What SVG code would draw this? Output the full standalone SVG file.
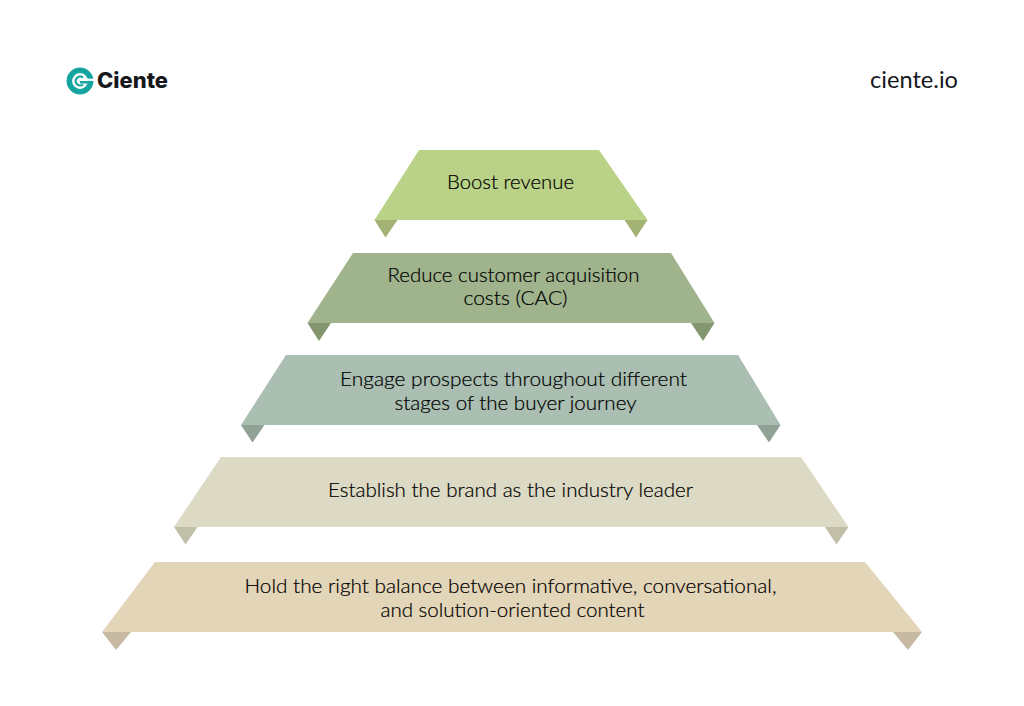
<svg xmlns="http://www.w3.org/2000/svg" width="1024" height="706" viewBox="0 0 1024 706">
<style>
text{font-family:"Lato","Noto Sans",sans-serif;font-size:19px;font-weight:300;fill:#000;stroke:#000;stroke-width:0.200px;text-anchor:middle}
.logo{font-family:"Inter","Liberation Sans",sans-serif;font-weight:800;font-size:21.500px;fill:#16181c;stroke:none;text-anchor:start}
.site{font-family:"Lato","Noto Sans",sans-serif;font-size:24px;font-weight:400;fill:#16181c;stroke:none}
</style>
<rect width="1024" height="706" fill="#fff"/>
<g id="logo">
<circle cx="80" cy="81" r="10.700" fill="none" stroke="#14a5a0" stroke-width="5.500"/>
<path d="M80 79.800H94" fill="none" stroke="#fff" stroke-width="2.200"/>
<path d="M80 82.300H90" fill="none" stroke="#14a5a0" stroke-width="2.500"/>
<path d="M83 77.500A4.500 4.500 0 1 0 83 84.500" fill="none" stroke="#14a5a0" stroke-width="2.200"/>
<text class="logo" x="97" y="88" textLength="71" lengthAdjust="spacingAndGlyphs">Ciente</text>
</g>
<g id="site"><text class="site" x="914" y="88" textLength="88" lengthAdjust="spacingAndGlyphs">ciente.io</text></g>
<g id="level-1">
<polygon points="419,150 599,150 647.500,220 374.500,220" fill="#b9d287"/>
<polygon points="374.500,220 397.500,220 385.500,237.500" fill="#a3b374"/>
<polygon points="624.500,220 647.500,220 636,237.500" fill="#a3b374"/>
<text x="510.500" y="188.500" textLength="127" lengthAdjust="spacingAndGlyphs">Boost revenue</text>
</g>
<g id="level-2">
<polygon points="353,253 671,253 714.500,323 307.500,323" fill="#9fb38c"/>
<polygon points="307.500,323 331,323 319,341" fill="#84966f"/>
<polygon points="691,323 714.500,323 703,341" fill="#84966f"/>
<text x="513.500" y="282" textLength="252" lengthAdjust="spacingAndGlyphs">Reduce customer acquisition</text>
<text x="515.500" y="305" textLength="104" lengthAdjust="spacingAndGlyphs">costs (CAC)</text>
</g>
<g id="level-3">
<polygon points="286,355 738,355 780.500,425 241,425" fill="#aabeb1"/>
<polygon points="241,425 264.500,425 252.500,442.500" fill="#8fa295"/>
<polygon points="757,425 780.500,425 769,442.500" fill="#8fa295"/>
<text x="513.500" y="385.500" textLength="347" lengthAdjust="spacingAndGlyphs">Engage prospects throughout different</text>
<text x="515.500" y="409.500" textLength="242" lengthAdjust="spacingAndGlyphs">stages of the buyer journey</text>
</g>
<g id="level-4">
<polygon points="221,457 801,457 848.500,527 174,527" fill="#dcd9c4"/>
<polygon points="174,527 197.500,527 185.500,544.500" fill="#c2bfa9"/>
<polygon points="825,527 848.500,527 836.500,544.500" fill="#c2bfa9"/>
<text x="510.500" y="496.500" textLength="365" lengthAdjust="spacingAndGlyphs">Establish the brand as the industry leader</text>
</g>
<g id="level-5">
<polygon points="155,562 865,562 922,632 102,632" fill="#e3d5b8"/>
<polygon points="102,632 131,632 116,650" fill="#c6baa3"/>
<polygon points="893,632 922,632 908,650" fill="#c6baa3"/>
<text x="510.500" y="592.500" textLength="532" lengthAdjust="spacingAndGlyphs">Hold the right balance between informative, conversational,</text>
<text x="512.500" y="616.500" textLength="264" lengthAdjust="spacingAndGlyphs">and solution-oriented content</text>
</g>
</svg>
